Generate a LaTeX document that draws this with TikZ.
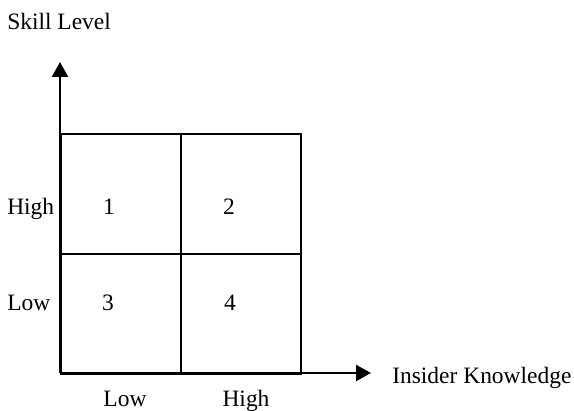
\documentclass[tikz,border=0pt]{standalone}
\usepackage{fontspec}
\setmainfont{Liberation Serif}
\usetikzlibrary{arrows.meta}
\begin{document}
\begin{tikzpicture}[x=0.75pt,y=-0.75pt,
  txt/.style={inner sep=0pt,font=\fontsize{17.6}{20}\selectfont},
  cell/.style={draw,line width=1.7pt,minimum width=90pt,minimum height=90pt,inner sep=0pt,anchor=north west},
  axis/.style={line width=1.7pt,-{Triangle[length=11.25pt,width=12pt]}}]
\useasboundingbox (0,0) rectangle (574,410);
% quadrant grid
\node[cell] (c1) at (60,133) {};
\node[cell] (c2) at (180,133) {};
\node[cell] (c3) at (60,253) {};
\node[cell] (c4) at (180,253) {};
% axes
\coordinate (o) at (60,373);
\coordinate (ytip) at (60,62);
\coordinate (xtip) at (371,373);
\draw[axis] (o) -- (ytip);
\draw[axis] (o) -- (xtip);
% quadrant numbers
\node[txt,anchor=base] (n1) at (109,214) {1};
\node[txt,anchor=base] (n2) at (229,214) {2};
\node[txt,anchor=base] (n3) at (108,310) {3};
\node[txt,anchor=base] (n4) at (230,310) {4};
% axis labels
\node[txt,anchor=base west] (ytitle) at (7,30) {Skill Level};
\node[txt,anchor=base west] (xtitle) at (392,383) {Insider Knowledge};
\node[txt,anchor=base west] (yhigh) at (7,214) {High};
\node[txt,anchor=base west] (ylow) at (7,310) {Low};
\node[txt,anchor=base] (xlow) at (125,406) {Low};
\node[txt,anchor=base] (xhigh) at (246,406) {High};
\end{tikzpicture}
\end{document}
